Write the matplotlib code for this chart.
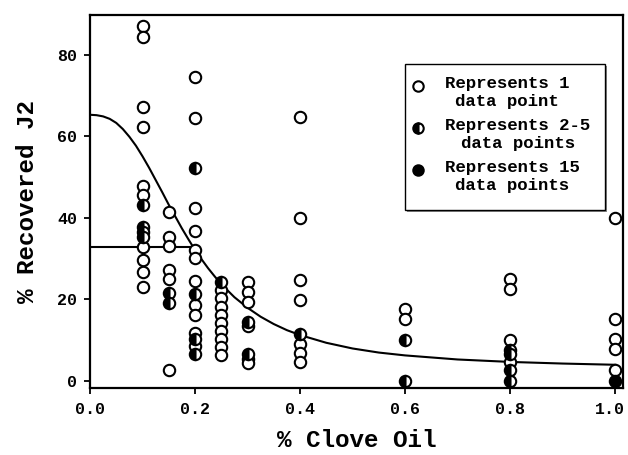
import matplotlib
matplotlib.use("Agg")
import matplotlib.pyplot as plt
from matplotlib.patches import Rectangle
from matplotlib.transforms import ScaledTranslation

plt.rcParams['font.family'] = ['Liberation Mono', 'DejaVu Sans Mono']
plt.rcParams['font.weight'] = 'bold'

# ---- data: open circles (1 data point) ----
open_x = ([0.1] * 10 + [0.15] * 6 + [0.2] * 11 + [0.25] * 9 + [0.3] * 6 +
          [0.4] * 7 + [0.6] * 2 + [0.8] * 4 + [1.0] * 5)
open_y = [87.1, 84.5, 67.2, 62.2, 47.7, 45.5, 32.9, 29.6, 26.8, 23.0,
          41.4, 35.2, 33.0, 27.2, 25.0, 2.6,
          74.5, 64.6, 42.3, 36.7, 32.2, 30.0, 24.5, 18.5, 16.1, 11.7, 8.4,
          22.2, 20.2, 18.2, 16.2, 14.2, 12.2, 10.2, 8.2, 6.2,
          24.2, 21.7, 19.2, 13.3, 5.3, 4.3,
          64.7, 39.9, 24.8, 19.9, 9.0, 6.9, 4.5,
          17.5, 15.1,
          25.0, 22.5, 10.0, 4.5,
          39.9, 15.1, 10.2, 7.7, 2.6]

# ---- half-filled circles (2-5 data points) ----
half_x = ([0.1] * 4 + [0.15] * 2 + [0.2] * 4 + [0.25] + [0.3] * 2 +
          [0.4] + [0.6] * 2 + [0.8] * 4)
half_y = [43.2, 37.8, 36.6, 35.4,
          21.5, 19.0,
          52.3, 21.3, 10.2, 6.6,
          24.2,
          14.3, 6.5,
          11.4,
          10.0, 0.0,
          7.5, 6.5, 2.6, 0.0]

# ---- filled circles (15 data points) ----
full_x = [1.0]
full_y = [0.0]

# ---- fitted curve ----
curve_x = [0.0, 0.0125, 0.025, 0.0375, 0.05, 0.0625, 0.075, 0.0875, 0.1,
           0.1125, 0.125, 0.1375, 0.15, 0.1625, 0.175, 0.1875, 0.2, 0.2125,
           0.225, 0.2375, 0.25, 0.275, 0.3, 0.325, 0.35, 0.375, 0.4, 0.45,
           0.5, 0.55, 0.6, 0.7, 0.8, 0.9, 1.0]
curve_y = [65.3, 65.2, 64.9, 64.3, 63.3, 61.8, 59.9, 57.7, 55.1,
           52.3, 49.3, 46.3, 43.2, 40.3, 37.4, 34.7, 32.1, 29.8,
           27.6, 25.6, 23.7, 20.5, 17.9, 15.7, 13.9, 12.4, 11.2, 9.3,
           7.9, 6.9, 6.2, 5.2, 4.6, 4.2, 3.9]

# horizontal reference line
hline_x = [0.0, 0.195]
hline_y = [32.9, 32.9]

x_ticks = [0.0, 0.2, 0.4, 0.6, 0.8, 1.0]
x_ticklabels = ['0.0', '0.2', '0.4', '0.6', '0.8', '1.0']
y_ticks = [0, 20, 40, 60, 80]
legend_labels = ['Represents 1\ndata point',
                 'Represents 2-5\ndata points',
                 'Represents 15\ndata points']

fig = plt.figure(figsize=(6.28, 4.55), dpi=100)
ax = fig.add_axes([0.1433, 0.1473, 0.8487, 0.8197])

ax.plot(curve_x, curve_y, color='black', lw=1.5, zorder=2)
ax.plot(hline_x, hline_y, color='black', lw=1.5, zorder=2)

ms = 8.2
mew = 1.5
ax.plot(open_x, open_y, ls='none', marker='o', ms=ms, mew=mew,
        mfc='white', mec='black', zorder=3)
ax.plot(half_x, half_y, ls='none', marker='o', ms=ms, mew=mew,
        fillstyle='left', mfc='black', mfcalt='white', mec='black', zorder=4)
ax.plot(full_x, full_y, ls='none', marker='o', ms=ms, mew=mew,
        mfc='black', mec='black', zorder=4)

ax.set_xlim(0, 1.015)
ax.set_ylim(-1.8, 89.8)
ax.set_xticks(x_ticks)
ax.set_xticklabels(x_ticklabels)
ax.set_yticks(y_ticks)
for s in ax.spines.values():
    s.set_linewidth(1.6)
ax.tick_params(direction='out', length=4, width=1.3, labelsize=12,
               top=False, right=False)
ax.tick_params(axis='y', pad=5)
ax.tick_params(axis='x', pad=6)
for lab in ax.get_xticklabels() + ax.get_yticklabels():
    lab.set_fontweight('bold')
# keep the last x tick label inside the figure edge
last = ax.get_xticklabels()[-1]
last.set_transform(last.get_transform() +
                   ScaledTranslation(-4 / 72, 0, fig.dpi_scale_trans))

ax.set_xlabel('% Clove Oil', fontsize=17.5, fontweight='bold', labelpad=9)
ax.set_ylabel('% Recovered J2', fontsize=17.5, fontweight='bold', labelpad=13)

# ---- legend drawn in axes coordinates ----
bx0, by0, bw, bh = 0.591, 0.478, 0.375, 0.391
shadow = Rectangle((bx0 + 0.004, by0 - 0.005), bw, bh, transform=ax.transAxes,
                   facecolor='#888888', edgecolor='none', zorder=5)
box = Rectangle((bx0, by0), bw, bh, transform=ax.transAxes,
                facecolor='white', edgecolor='black', lw=1.0, zorder=6)
ax.add_patch(shadow)
ax.add_patch(box)

row_y = [0.810, 0.697, 0.584]
styles = [dict(mfc='white', mec='black'),
          dict(fillstyle='left', mfc='black', mfcalt='white', mec='black'),
          dict(mfc='black', mec='black')]
for yy, lab, st in zip(row_y, legend_labels, styles):
    ax.plot([0.615], [yy], ls='none', marker='o', ms=7.5, mew=1.5,
            transform=ax.transAxes, zorder=7, clip_on=False, **st)
    ax.text(0.666, yy + 0.026, lab, transform=ax.transAxes, ha='left',
            va='top', multialignment='center', fontsize=12.5,
            fontweight='bold', linespacing=1.2, zorder=7)

fig.savefig('out.png', dpi=100)
